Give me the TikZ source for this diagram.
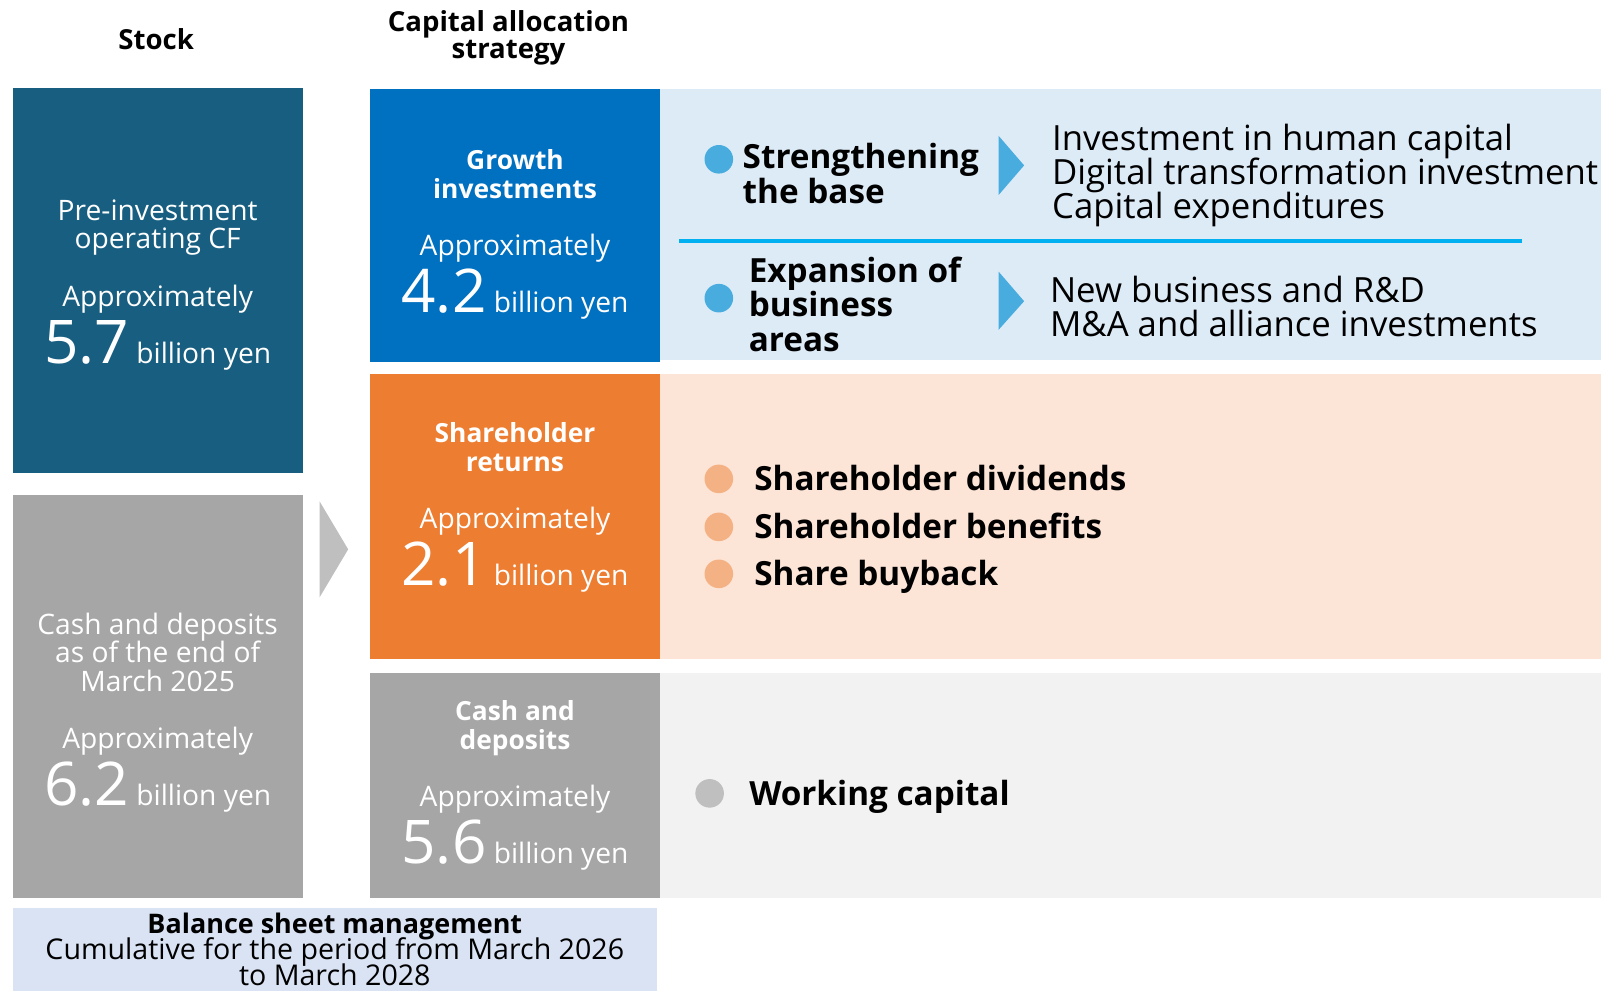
\documentclass[tikz,border=0pt]{standalone}
\usepackage{fontspec}
\setmainfont{Open Sans}
\usepackage{xcolor}
\usetikzlibrary{positioning}
\definecolor{stockteal}{RGB}{23,94,128}
\definecolor{growthblue}{RGB}{0,112,192}
\definecolor{returnorange}{RGB}{237,125,49}
\definecolor{cashgray}{RGB}{166,166,166}
\definecolor{arrowgray}{RGB}{191,191,191}
\definecolor{growthtint}{RGB}{221,235,247}
\definecolor{returntint}{RGB}{252,228,214}
\definecolor{cashtint}{RGB}{242,242,242}
\definecolor{bsmtint}{RGB}{218,227,243}
\definecolor{dotblue}{RGB}{72,172,222}
\definecolor{ruleblue}{RGB}{0,176,240}
\definecolor{dotorange}{RGB}{244,177,131}
\newcommand{\amount}[1]{{\fontsize{29.5}{29.5}\selectfont #1}}
\newcommand{\boxtitle}[1]{{\fontsize{12.9}{14}\selectfont\bfseries #1}}
\newcommand{\tightlines}{\lineskiplimit-20pt\relax}
\tikzset{
    block/.style={rectangle, anchor=north west, inner sep=0pt, minimum width=142pt},
    panel/.style={rectangle, anchor=north west, inner sep=0pt, minimum width=461pt},
    heading/.style={align=center, inner sep=0pt, font=\fontsize{13.5}{13.5}\selectfont\bfseries\tightlines},
    boxtext/.style={text=white, align=center, inner sep=0pt, font=\fontsize{13.8}{14}\selectfont\tightlines},
    keyitem/.style={align=left, inner sep=0pt, font=\fontsize{16.3}{17}\selectfont\bfseries\tightlines},
    listitem/.style={keyitem, text height=15pt, text depth=3.5pt},
    detail/.style={align=left, inner sep=0pt, font=\fontsize{17}{16.5}\selectfont\tightlines},
    dot/.style={circle, fill=#1, minimum size=14pt, inner sep=0pt},
    pointer/.style={fill=#1}
}
\begin{document}
\begin{tikzpicture}[x=0.5pt, y=-0.5pt]
    \useasboundingbox (0,0) rectangle (1568,970);

    % Column headings
    \node[heading] (stockhead) at (153,38) {Stock};
    \node[heading] (allochead) at (498,37) {Capital allocation\\strategy};

    % Stock column
    \node[block, fill=stockteal, minimum height=188.5pt] (opcf) at (12,86) {};
    \node[block, fill=cashgray, minimum height=197.5pt] (cashstock) at (12,484) {};
    \node[boxtext] (opcftxt) at ([yshift=-2pt]opcf.center) {Pre-investment\\operating CF\\[14pt]Approximately\\[14pt]\amount{5.7} billion yen};
    \node[boxtext] (cashstocktxt) at ([yshift=-8pt]cashstock.center) {Cash and deposits\\as of the end of\\March 2025\\[14pt]Approximately\\[14pt]\amount{6.2} billion yen};

    % Flow from stock to allocation
    \fill[arrowgray] (313,491) -- (341,538) -- (313,585) -- cycle;

    % Allocation column
    \node[block, fill=growthblue, minimum height=133.5pt] (growth) at (362,87) {};
    \node[block, fill=returnorange, minimum height=139.5pt] (returns) at (362,366) {};
    \node[block, fill=cashgray, minimum height=110pt] (cashalloc) at (362,659) {};
    \node[boxtext] (growthtxt) at ([yshift=-4.5pt]growth.center) {\boxtitle{Growth}\\\boxtitle{investments}\\[14pt]Approximately\\[14pt]\amount{4.2} billion yen};
    \node[boxtext] (returnstxt) at ([yshift=4.5pt]returns.center) {\boxtitle{Shareholder}\\\boxtitle{returns}\\[14pt]Approximately\\[14pt]\amount{2.1} billion yen};
    \node[boxtext] (cashalloctxt) at (cashalloc.center) {\boxtitle{Cash and}\\\boxtitle{deposits}\\[14pt]Approximately\\[14pt]\amount{5.6} billion yen};

    % Breakdown panels
    \node[panel, fill=growthtint, minimum height=132.5pt] (growthpanel) at (646,87) {};
    \node[panel, fill=returntint, minimum height=139.5pt] (returnspanel) at (646,366) {};
    \node[panel, fill=cashtint, minimum height=110pt] (cashpanel) at (646,659) {};

    % Growth investments breakdown
    \node[dot=dotblue] (basedot) at (704,156) {};
    \node[keyitem, anchor=west] (basetxt) at (727,170) {Strengthening\\the base};
    \fill[pointer=dotblue] (978,133) -- (1003,162) -- (978,191) -- cycle;
    \node[detail, anchor=west] (basedetail) at (1030,172) {Investment in human capital\\Digital transformation investment\\Capital expenditures};
    \draw[ruleblue, line width=1.5pt] (665,236) -- (1491,236);
    \node[dot=dotblue] (areadot) at (704,292) {};
    \node[keyitem, anchor=west] (areatxt) at (733,298) {Expansion of\\business\\areas};
    \fill[pointer=dotblue] (978,266) -- (1003,295) -- (978,323) -- cycle;
    \node[detail, anchor=west] (areadetail) at (1028,300) {New business and R\&D\\M\&A and alliance investments};

    % Shareholder returns breakdown
    \node[dot=dotorange] (divdot) at (704,469) {};
    \node[dot=dotorange] (bendot) at (704,516) {};
    \node[dot=dotorange] (buydot) at (704,562) {};
    \node[listitem, right=10pt of divdot] (divtxt) {Shareholder dividends};
    \node[listitem, right=10pt of bendot] (bentxt) {Shareholder benefits};
    \node[listitem, right=10pt of buydot] (buytxt) {Share buyback};

    % Cash and deposits breakdown
    \node[dot=arrowgray] (wcdot) at (695,777) {};
    \node[listitem, right=12pt of wcdot] (wctxt) {Working capital};

    % Balance sheet note
    \node[block, fill=bsmtint, minimum width=315.5pt, minimum height=40.5pt, align=center, font=\fontsize{14}{12.75}\selectfont\tightlines] (bsm) at (12,889) {{\fontsize{13.2}{12.75}\selectfont\bfseries Balance sheet management}\\Cumulative for the period from March 2026\\to March 2028};
\end{tikzpicture}
\end{document}
